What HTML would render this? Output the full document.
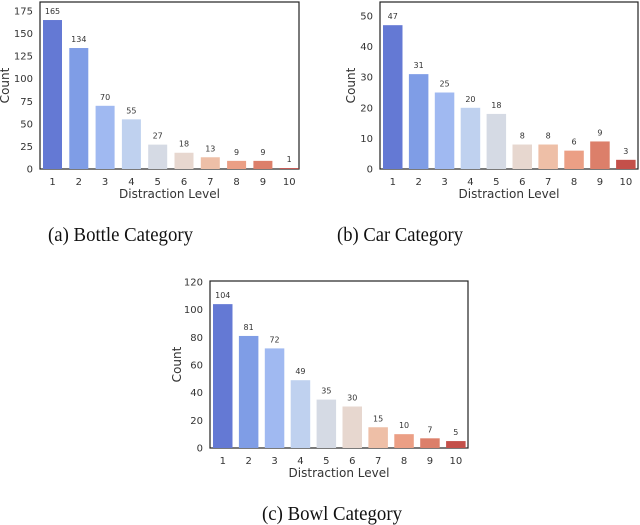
<!DOCTYPE html>
<html><head><meta charset="utf-8">
<style>
html,body{margin:0;padding:0;background:#fff;width:640px;height:525px;overflow:hidden}
svg{display:block}
.cap{font-family:"Liberation Serif",serif;font-size:20px;fill:#111}
.tk{font-family:"DejaVu Sans","Liberation Sans",sans-serif;font-size:10px;fill:#333}
.lbl{font-family:"DejaVu Sans","Liberation Sans",sans-serif;font-size:8px;fill:#333}
.ax{font-family:"DejaVu Sans","Liberation Sans",sans-serif;font-size:12px;fill:#333}
</style></head>
<body>
<svg id="root" width="640" height="525" viewBox="0 0 640 525">
<text class="cap" x="48" y="241" textLength="145" lengthAdjust="spacingAndGlyphs">(a)  Bottle Category</text>
<text class="cap" x="337" y="241" textLength="126" lengthAdjust="spacingAndGlyphs">(b)  Car Category</text>
<text class="cap" x="262" y="520" textLength="140" lengthAdjust="spacingAndGlyphs">(c)  Bowl Category</text>
</svg>
<script>
const categories = ["1","2","3","4","5","6","7","8","9","10"];
const bottleValues = [165,134,70,55,27,18,13,9,9,1];
const carValues = [47,31,25,20,18,8,8,6,9,3];
const bowlValues = [104,81,72,49,35,30,15,10,7,5];
const bottleTicks = [0,25,50,75,100,125,150,175];
const carTicks = [0,10,20,30,40,50];
const bowlTicks = [0,20,40,60,80,100,120];
const colors = ["#6479d4","#7f9de6","#a0b9f1","#bfd1ef","#d5dae4","#e7d7cf","#eebfa7","#eb9f85","#dc7f6a","#c4504a"];
const NS="http://www.w3.org/2000/svg";
const root=document.getElementById('root');
function mk(tag,attrs,parent){const e=document.createElementNS(NS,tag);for(const k in attrs)e.setAttribute(k,attrs[k]);(parent||root).appendChild(e);return e;}
function chart(name,values,ticks,yMax,box){
  const g=mk('g',{});
  
  
  const {l,r,t,b,x0,step,bw}=box;
  const y=v=>b-(v/yMax)*(b-box.ytop);
  const xc=i=>x0+i*step+bw/2;
  const fr=mk('rect',{x:l,y:t,width:r-l,height:b-t,fill:'none',stroke:'#222','stroke-width':1.2},g);
  
  
  ticks.forEach(tv=>{
    const tt=mk('text',{class:'tk',x:l-7,y:y(tv)+3.5,'text-anchor':'end'},g);
    tt.textContent=tv;
    
    
  });
  values.forEach((v,i)=>{
    const rc=mk('rect',{x:xc(i)-bw/2,y:y(v),width:bw,height:b-y(v),fill:colors[i]},g);
    
    
    const lt=mk('text',{class:'lbl',x:xc(i),y:y(v)-6,'text-anchor':'middle'},g);
    lt.textContent=v;
    
    
    const xt=mk('text',{class:'tk',x:xc(i),y:b+16,'text-anchor':'middle'},g);
    xt.textContent=categories[i];
    
    
  });
  const xl=mk('text',{class:'ax',x:(l+r)/2,y:b+29,'text-anchor':'middle'},g);
  xl.textContent='Distraction Level';
  
  
  const yl=mk('text',{class:'ax',x:0,y:0,'text-anchor':'middle',transform:'translate('+box.ylx+','+((t+b)/2)+') rotate(-90)'},g);
  yl.textContent='Count';
  
  
}
chart('bottle',bottleValues,bottleTicks,175,{l:40,r:299,t:2,b:169,ytop:11,x0:43,step:26.3,bw:19,ylx:9});
chart('car',carValues,carTicks,50,{l:380,r:638,t:2,b:169,ytop:16,x0:383,step:25.9,bw:19.5,ylx:355});
chart('bowl',bowlValues,bowlTicks,120,{l:210,r:468,t:281,b:448,ytop:282,x0:213,step:25.9,bw:19.5,ylx:181});
</script>
</body></html>
